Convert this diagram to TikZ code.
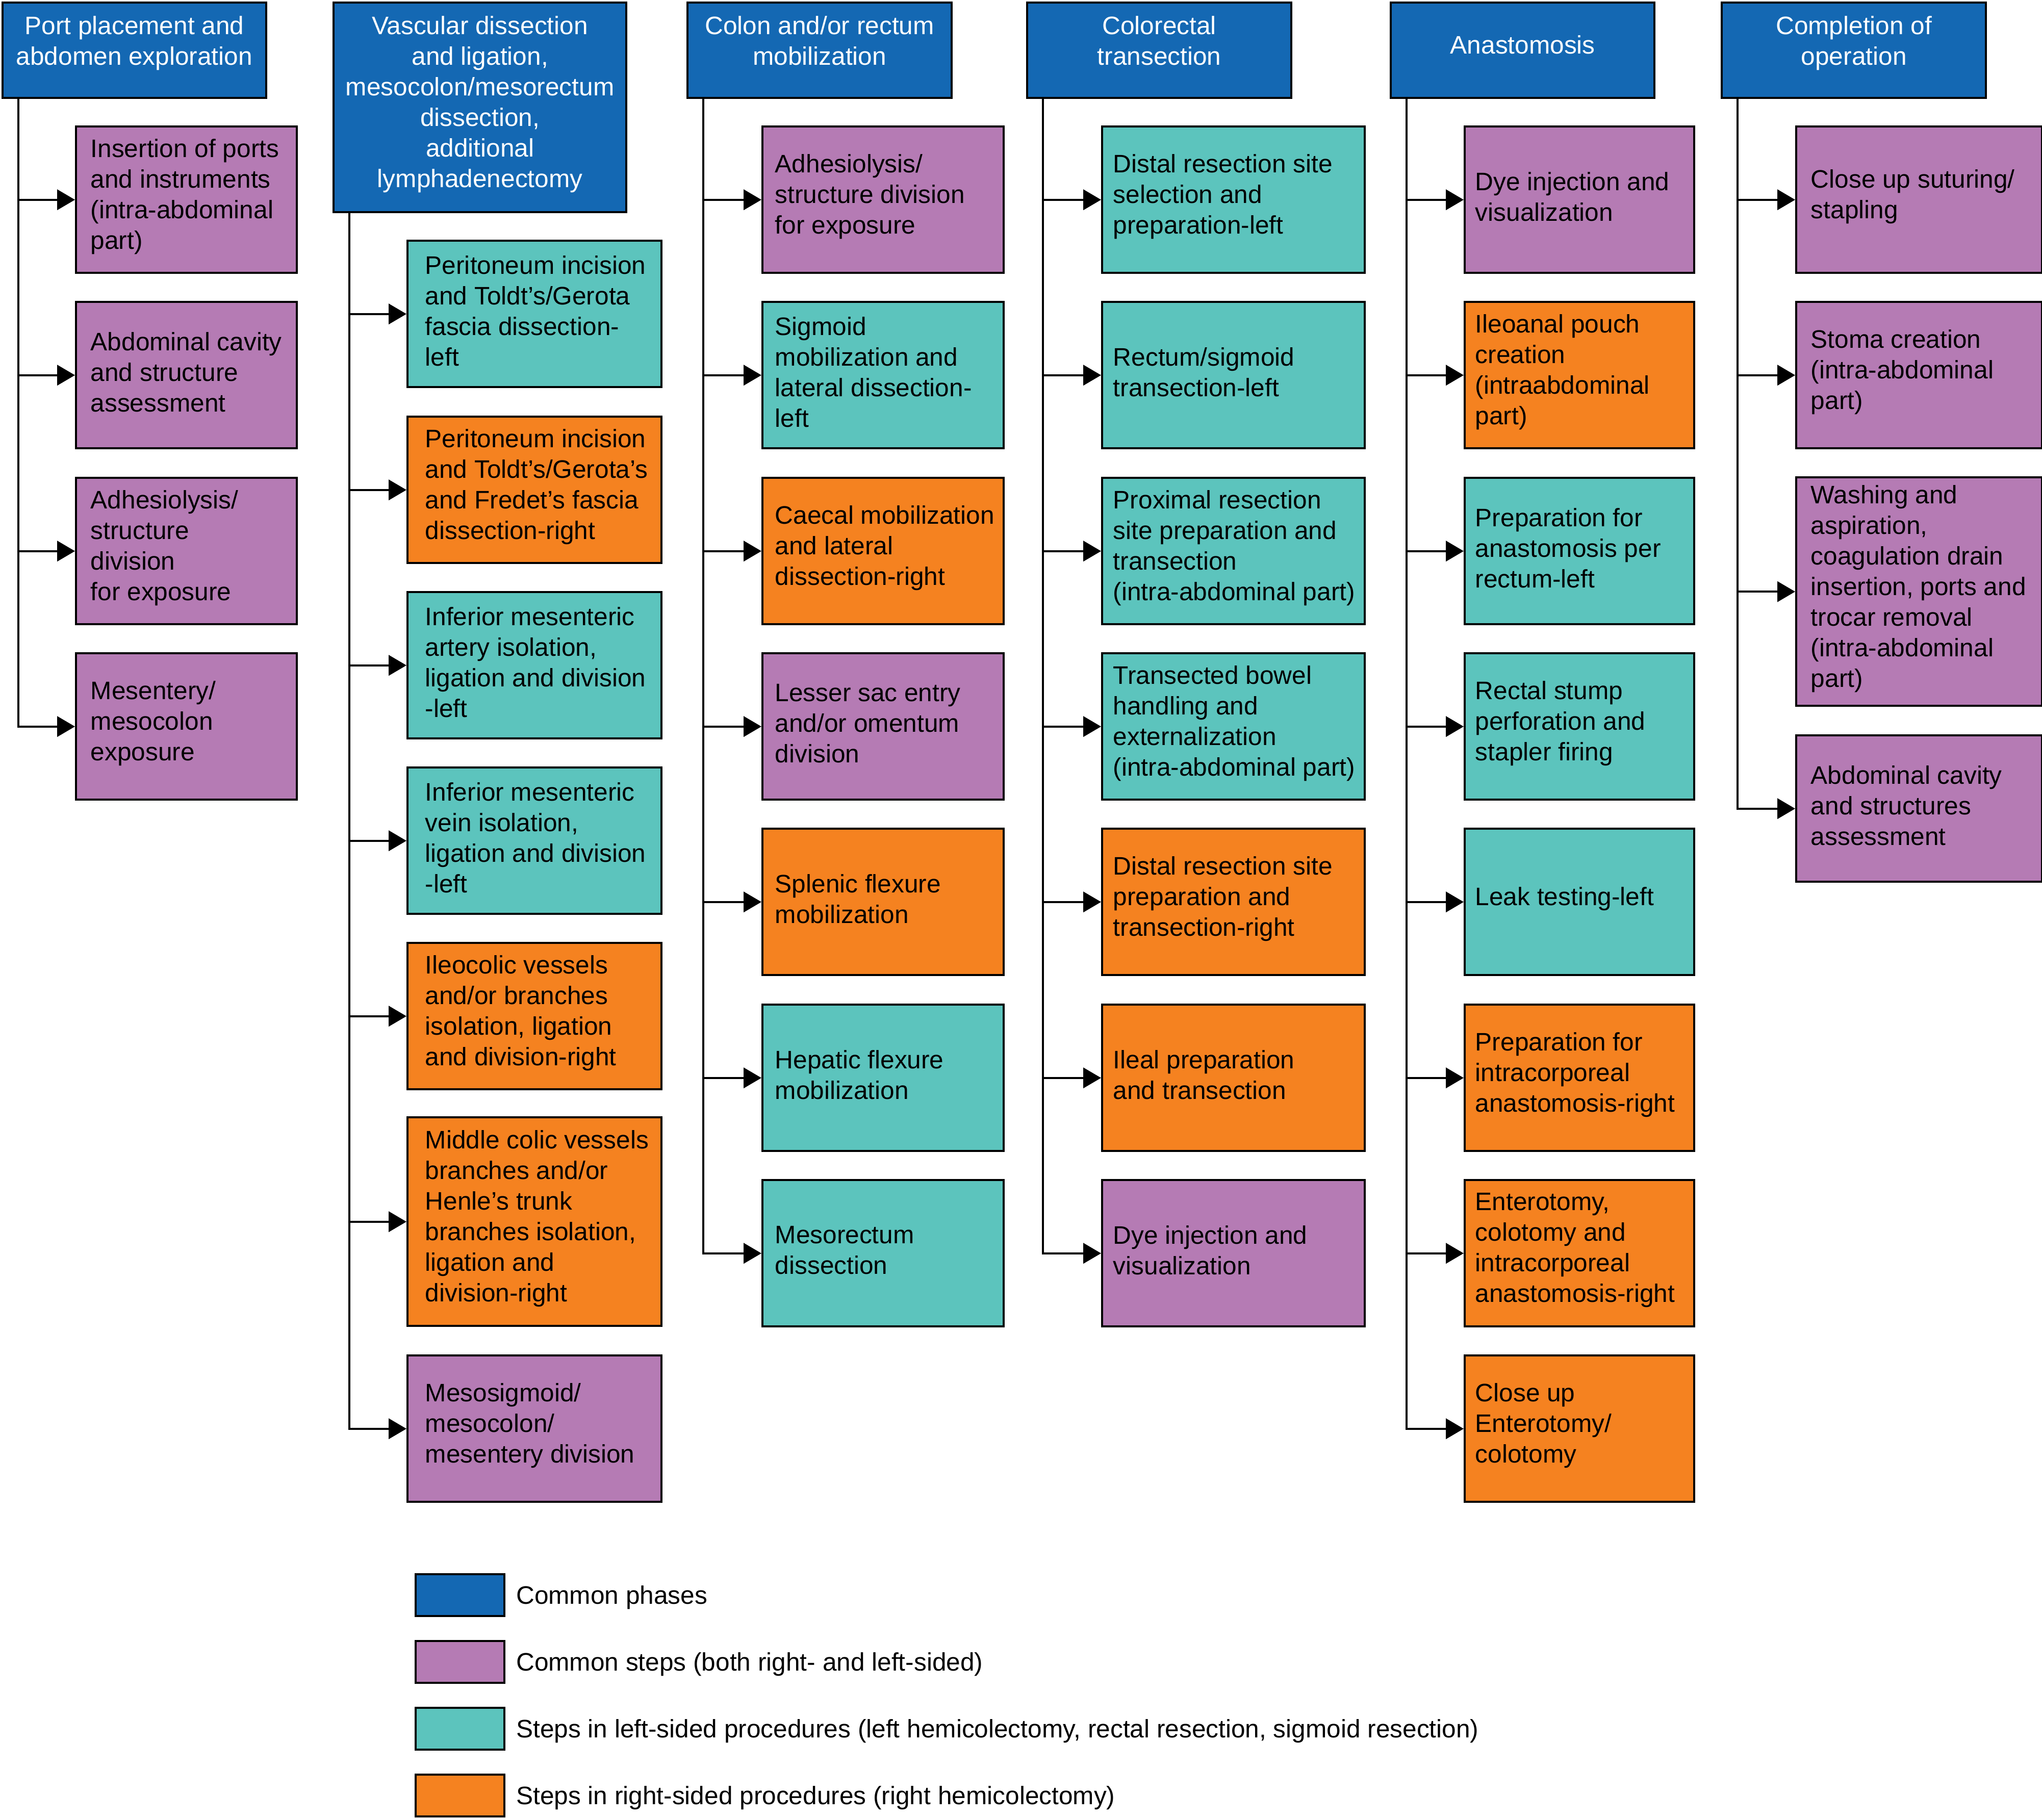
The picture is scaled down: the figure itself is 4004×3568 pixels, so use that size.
\documentclass[tikz,border=0pt]{standalone}
\usepackage{fontspec}
\setmainfont{Liberation Sans}
\usetikzlibrary{arrows.meta,calc}
\definecolor{cblue}{HTML}{1468B3}
\definecolor{cpurple}{HTML}{B57BB4}
\definecolor{cteal}{HTML}{5CC4BD}
\definecolor{corange}{HTML}{F58220}
\tikzset{
  stepbox/.style={draw=black, line width=1.1pt, rectangle, inner sep=0pt},
  headbox/.style={draw=black, fill=cblue, line width=1.1pt, rectangle, inner sep=0pt},
  steptext/.style={align=left, inner sep=0pt, font=\fontsize{12.4pt}{15pt}\selectfont},
  headtext/.style={align=center, inner sep=0pt, text=white, font=\fontsize{12.4pt}{15pt}\selectfont},
  legtext/.style={inner sep=0pt, font=\fontsize{12.4pt}{15pt}\selectfont},
  conn/.style={line width=1pt, -{Triangle[length=8.75pt,width=10pt]}},
}
% name, colour, left, top, width, height, inset, text
\newcommand{\mkstep}[8]{%
  \node[stepbox, fill=#2, minimum width=#5*0.25pt, minimum height=#6*0.25pt, anchor=north west] (#1) at (#3,#4) {};
  \node[steptext, anchor=west] (#1t) at ([xshift=#7*0.25pt, yshift=1.5pt]#1.west) {#8};
}
% name, left, top, width, height, text shift, text
\newcommand{\mkhead}[7]{%
  \node[headbox, minimum width=#4*0.25pt, minimum height=#5*0.25pt, anchor=north west] (#1) at (#2,#3) {};
  \node[headtext, anchor=north] (#1t) at ([yshift=-#6*0.25pt]#1.north) {#7};
}
% name, colour, top, text
\newcommand{\mkleg}[4]{%
  \node[stepbox, fill=#2, minimum width=174*0.25pt, minimum height=82*0.25pt, anchor=north west] (#1) at (813,#3) {};
  \node[legtext, anchor=base west] (#1t) at ([xshift=20*0.25pt, yshift=-17.7*0.25pt]#1.east) {#4};
}
\begin{document}
\begin{tikzpicture}[x=0.25pt,y=-0.25pt]
\useasboundingbox (0,0) rectangle (4004,3568);

% headers
\mkhead{h1}{2.5}{3}{517.5}{187}{28}{Port placement and\\abdomen exploration}
\mkhead{h2}{652}{3}{574}{411}{28}{Vascular dissection\\and ligation,\\mesocolon/mesorectum\\dissection,\\additional\\lymphadenectomy}
\mkhead{h3}{1346}{3}{518}{187}{28}{Colon and/or rectum\\mobilization}
\mkhead{h4}{2012}{3}{518}{187}{28}{Colorectal\\transection}
\mkhead{h5}{2725}{3}{517}{187}{66}{Anastomosis}
\mkhead{h6}{3374}{3}{518}{187}{28}{Completion of\\operation}

% column 1
\mkstep{a1}{cpurple}{147}{246}{433}{287}{30}{Insertion of ports\\and instruments\\(intra-abdominal\\part)}
\mkstep{a2}{cpurple}{147}{590}{433}{287}{30}{Abdominal cavity\\and structure\\assessment}
\mkstep{a3}{cpurple}{147}{935}{433}{287}{30}{Adhesiolysis/\\structure\\division\\for exposure}
\mkstep{a4}{cpurple}{147}{1279}{433}{287}{30}{Mesentery/\\mesocolon\\exposure}

% column 2
\mkstep{b1}{cteal}{797}{470}{498}{287}{36}{Peritoneum incision\\and Toldt’s/Gerota\\fascia dissection-\\left}
\mkstep{b2}{corange}{797}{815}{498}{287}{36}{Peritoneum incision\\and Toldt’s/Gerota’s\\and Fredet’s fascia\\dissection-right}
\mkstep{b3}{cteal}{797}{1159}{498}{287}{36}{Inferior mesenteric\\artery isolation,\\ligation and division\\-left}
\mkstep{b4}{cteal}{797}{1503}{498}{287}{36}{Inferior mesenteric\\vein isolation,\\ligation and division\\-left}
\mkstep{b5}{corange}{797}{1847}{498}{287}{36}{Ileocolic vessels\\and/or branches\\isolation, ligation\\and division-right}
\mkstep{b6}{corange}{797}{2189}{498}{409}{36}{Middle colic vessels\\branches and/or\\Henle’s trunk\\branches isolation,\\ligation and\\division-right}
\mkstep{b7}{cpurple}{797}{2656}{498}{287}{36}{Mesosigmoid/\\mesocolon/\\mesentery division}

% column 3
\mkstep{c1}{cpurple}{1493}{246}{473}{287}{26}{Adhesiolysis/\\structure division\\for exposure}
\mkstep{c2}{cteal}{1493}{590}{473}{287}{26}{Sigmoid\\mobilization and\\lateral dissection-\\left}
\mkstep{c3}{corange}{1493}{935}{473}{287}{26}{Caecal mobilization\\and lateral\\dissection-right}
\mkstep{c4}{cpurple}{1493}{1279}{473}{287}{26}{Lesser sac entry\\and/or omentum\\division}
\mkstep{c5}{corange}{1493}{1623}{473}{287}{26}{Splenic flexure\\mobilization}
\mkstep{c6}{cteal}{1493}{1968}{473}{287}{26}{Hepatic flexure\\mobilization}
\mkstep{c7}{cteal}{1493}{2312}{473}{287}{26}{Mesorectum\\dissection}

% column 4
\mkstep{d1}{cteal}{2159}{246}{515}{287}{23}{Distal resection site\\selection and\\preparation-left}
\mkstep{d2}{cteal}{2159}{590}{515}{287}{23}{Rectum/sigmoid\\transection-left}
\mkstep{d3}{cteal}{2159}{935}{515}{287}{23}{Proximal resection\\site preparation and\\transection\\(intra-abdominal part)}
\mkstep{d4}{cteal}{2159}{1279}{515}{287}{23}{Transected bowel\\handling and\\externalization\\(intra-abdominal part)}
\mkstep{d5}{corange}{2159}{1623}{515}{287}{23}{Distal resection site\\preparation and\\transection-right}
\mkstep{d6}{corange}{2159}{1968}{515}{287}{23}{Ileal preparation\\and transection}
\mkstep{d7}{cpurple}{2159}{2312}{515}{287}{23}{Dye injection and\\visualization}

% column 5
\mkstep{e1}{cpurple}{2870}{246}{450}{287}{22}{Dye injection and\\visualization}
\mkstep{e2}{corange}{2870}{590}{450}{287}{22}{Ileoanal pouch\\creation\\(intraabdominal\\part)}
\mkstep{e3}{cteal}{2870}{935}{450}{287}{22}{Preparation for\\anastomosis per\\rectum-left}
\mkstep{e4}{cteal}{2870}{1279}{450}{287}{22}{Rectal stump\\perforation and\\stapler firing}
\mkstep{e5}{cteal}{2870}{1623}{450}{287}{22}{Leak testing-left}
\mkstep{e6}{corange}{2870}{1968}{450}{287}{22}{Preparation for\\intracorporeal\\anastomosis-right}
\mkstep{e7}{corange}{2870}{2312}{450}{287}{22}{Enterotomy,\\colotomy and\\intracorporeal\\anastomosis-right}
\mkstep{e8}{corange}{2870}{2656}{450}{287}{22}{Close up\\Enterotomy/\\colotomy}

% column 6
\mkstep{f1}{cpurple}{3520}{246}{482}{287}{30}{Close up suturing/\\stapling}
\mkstep{f2}{cpurple}{3520}{590}{482}{287}{30}{Stoma creation\\(intra-abdominal\\part)}
\mkstep{f3}{cpurple}{3520}{934}{482}{448}{30}{Washing and\\aspiration,\\coagulation drain\\insertion, ports and\\trocar removal\\(intra-abdominal\\part)}
\mkstep{f4}{cpurple}{3520}{1440}{482}{287}{30}{Abdominal cavity\\and structures\\assessment}

% trunk coordinates
\coordinate (v1) at ($(h1.south west)+(33,0)$);
\coordinate (v2) at ($(h2.south west)+(33,0)$);
\coordinate (v3) at ($(h3.south west)+(33,0)$);
\coordinate (v4) at ($(h4.south west)+(33,0)$);
\coordinate (v5) at ($(h5.south west)+(33,0)$);
\coordinate (v6) at ($(h6.south west)+(33,0)$);

% connectors
\foreach \n in {a1,a2,a3,a4} {\draw[conn] (v1) |- (\n.west);}
\foreach \n in {b1,b2,b3,b4,b5,b6,b7} {\draw[conn] (v2) |- (\n.west);}
\foreach \n in {c1,c2,c3,c4,c5,c6,c7} {\draw[conn] (v3) |- (\n.west);}
\foreach \n in {d1,d2,d3,d4,d5,d6,d7} {\draw[conn] (v4) |- (\n.west);}
\foreach \n in {e1,e2,e3,e4,e5,e6,e7,e8} {\draw[conn] (v5) |- (\n.west);}
\foreach \n in {f1,f2,f3,f4} {\draw[conn] (v6) |- (\n.west);}

% legend
\mkleg{l1}{cblue}{3085}{Common phases}
\mkleg{l2}{cpurple}{3216}{Common steps (both right- and left-sided)}
\mkleg{l3}{cteal}{3347}{Steps in left-sided procedures (left hemicolectomy, rectal resection, sigmoid resection)}
\mkleg{l4}{corange}{3478}{Steps in right-sided procedures (right hemicolectomy)}
\end{tikzpicture}
\end{document}
